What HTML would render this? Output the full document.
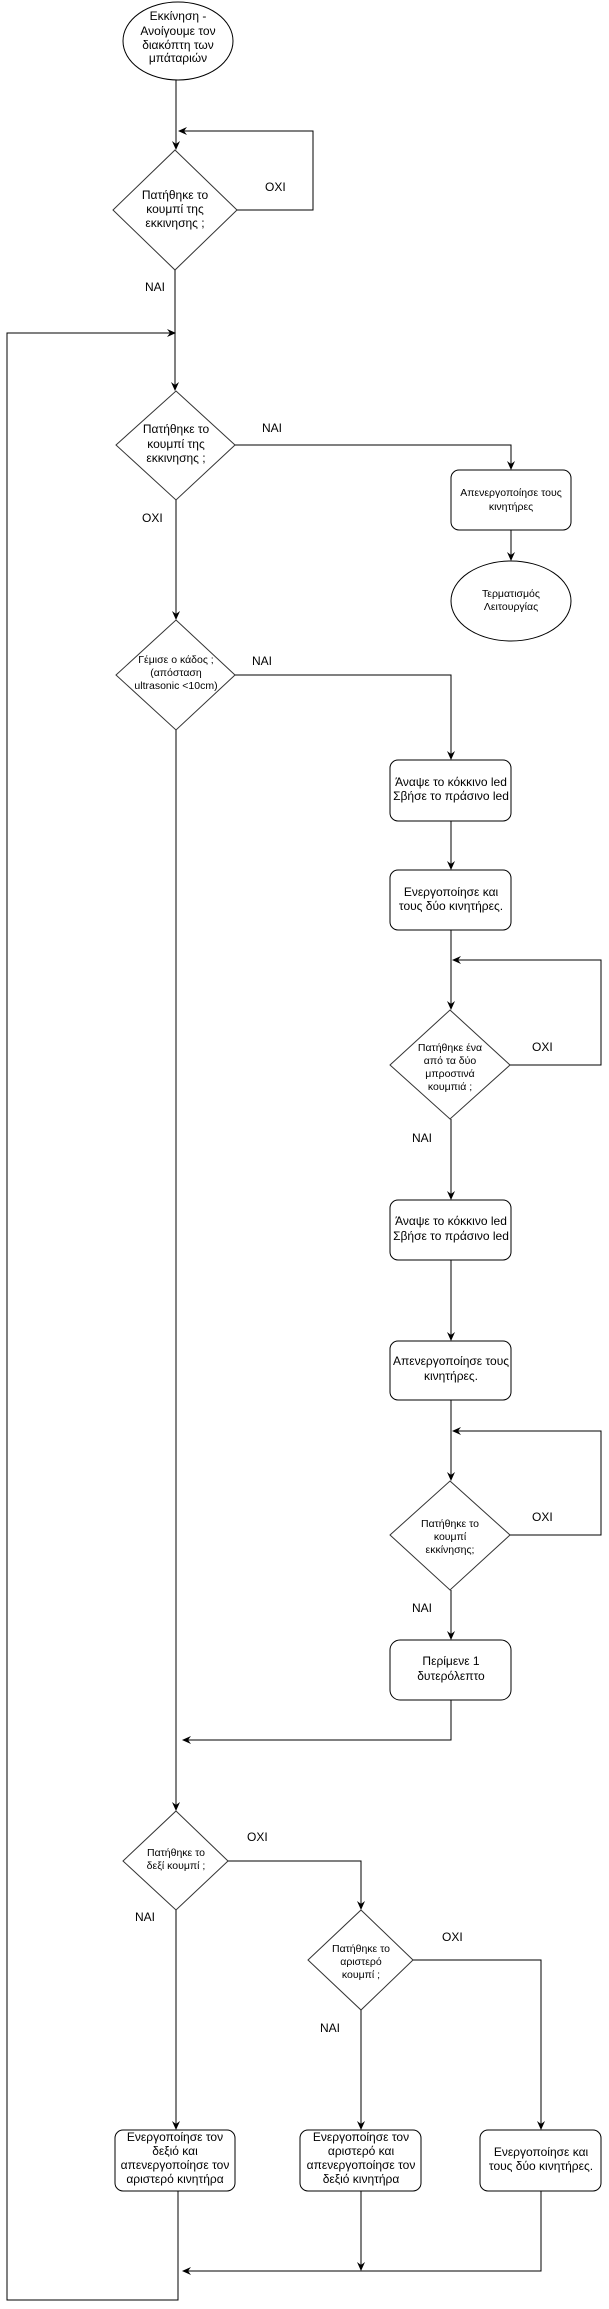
<!DOCTYPE html>
<html><head><meta charset="utf-8"><style>
html,body{margin:0;padding:0;background:#fff;}
svg{display:block;}
text{font-family:"Liberation Sans",sans-serif;fill:#000;text-anchor:middle;dominant-baseline:middle;}
.t{font-size:12px;}
.s{font-size:10.5px;}
.l{font-size:12px;text-anchor:start;}
</style></head><body>
<svg width="609" height="2309" viewBox="0 0 609 2309" xmlns="http://www.w3.org/2000/svg">
<defs><marker id="a" markerWidth="10" markerHeight="10" refX="8" refY="4" orient="auto" markerUnits="userSpaceOnUse"><path d="M0,0 L9,4 L0,8 L3,4 Z" fill="#000"/></marker></defs>
<g fill="none" stroke="#000" stroke-width="1">
<!-- start -->
<ellipse cx="178" cy="41" rx="55" ry="39" fill="#fff"/>
<path d="M176,80 V149" marker-end="url(#a)"/>
<polygon points="175,150 237,210 175,270 113,210" fill="#fff" stroke="#333"/>
<path d="M237,210 H313 V131 H179" marker-end="url(#a)"/>
<path d="M175,270 V390" marker-end="url(#a)"/>
<!-- diamond2 -->
<polygon points="176,391 235,445 176,500 116,445" fill="#fff" stroke="#333"/>
<path d="M235,445 H511 V469" marker-end="url(#a)"/>
<rect x="451" y="470" width="120" height="60" rx="8" fill="#fff"/>
<path d="M511,530 V560" marker-end="url(#a)"/>
<ellipse cx="511" cy="601" rx="60" ry="40" fill="#fff"/>
<path d="M176,500 V619" marker-end="url(#a)"/>
<!-- diamond3 -->
<polygon points="176,620 235,675 176,730 116,675" fill="#fff" stroke="#333"/>
<path d="M235,675 H451 V759" marker-end="url(#a)"/>
<rect x="390" y="760" width="121" height="61" rx="8" fill="#fff"/>
<path d="M451,821 V869" marker-end="url(#a)"/>
<rect x="390" y="870" width="121" height="60" rx="8" fill="#fff"/>
<path d="M451,930 V1009" marker-end="url(#a)"/>
<polygon points="450,1010 510,1065 450,1119 390,1065" fill="#fff" stroke="#333"/>
<path d="M510,1065 H601 V960 H453" marker-end="url(#a)"/>
<path d="M451,1119 V1199" marker-end="url(#a)"/>
<rect x="390" y="1200" width="121" height="60" rx="8" fill="#fff"/>
<path d="M451,1260 V1340" marker-end="url(#a)"/>
<rect x="390" y="1341" width="121" height="59" rx="8" fill="#fff"/>
<path d="M451,1400 V1480" marker-end="url(#a)"/>
<polygon points="450,1481 510,1535 450,1590 390,1535" fill="#fff" stroke="#333"/>
<path d="M510,1535 H601 V1431 H453" marker-end="url(#a)"/>
<path d="M451,1590 V1639" marker-end="url(#a)"/>
<rect x="390" y="1640" width="121" height="60" rx="10" fill="#fff"/>
<path d="M451,1700 V1740 H183" marker-end="url(#a)"/>
<path d="M176,730 V1810" marker-end="url(#a)"/>
<!-- diamond6 -->
<polygon points="176,1811 228,1861 176,1910 123,1861" fill="#fff" stroke="#333"/>
<path d="M228,1861 H361 V1909" marker-end="url(#a)"/>
<polygon points="361,1910 413,1960 361,2010 308,1960" fill="#fff" stroke="#333"/>
<path d="M413,1960 H541 V2129" marker-end="url(#a)"/>
<path d="M176,1910 V2129" marker-end="url(#a)"/>
<path d="M361,2010 V2129" marker-end="url(#a)"/>
<rect x="115" y="2130" width="120" height="61" rx="8" fill="#fff"/>
<rect x="300" y="2130" width="121" height="61" rx="8" fill="#fff"/>
<rect x="480" y="2130" width="121" height="61" rx="8" fill="#fff"/>
<path d="M361,2191 V2270" marker-end="url(#a)"/>
<path d="M541,2191 V2271 H183" marker-end="url(#a)"/>
<path d="M178,2191 V2300 H7 V333 H175" marker-end="url(#a)"/>
</g>
<text class="t" x="178" y="17">Εκκίνηση -</text>
<text class="t" x="178" y="32">Ανοίγουμε τον</text>
<text class="t" x="178" y="46">διακόπτη των</text>
<text class="t" x="178" y="59">μπάταριών</text>
<text class="t" x="175" y="196">Πατήθηκε το</text>
<text class="t" x="175" y="210">κουμπί της</text>
<text class="t" x="175" y="224">εκκινησης ;</text>
<text class="l" x="265" y="188">ΟΧΙ</text>
<text class="l" x="145" y="288">ΝΑΙ</text>
<text class="t" x="176" y="430">Πατήθηκε το</text>
<text class="t" x="176" y="445">κουμπί της</text>
<text class="t" x="176" y="459">εκκινησης ;</text>
<text class="l" x="262" y="429">ΝΑΙ</text>
<text class="s" x="511" y="493">Απενεργοποίησε τους</text>
<text class="s" x="511" y="507">κινητήρες</text>
<text class="s" x="511" y="594">Τερματισμός</text>
<text class="s" x="511" y="607">Λειτουργίας</text>
<text class="l" x="142" y="519">ΟΧΙ</text>
<text class="s" x="176" y="660">Γέμισε ο κάδος ;</text>
<text class="s" x="176" y="673">(απόσταση</text>
<text class="s" x="176" y="686">ultrasonic &lt;10cm)</text>
<text class="l" x="252" y="662">ΝΑΙ</text>
<text class="t" x="451" y="783">Άναψε το κόκκινο led</text>
<text class="t" x="451" y="797">Σβήσε το πράσινο led</text>
<text class="t" x="451" y="893">Ενεργοποίησε και</text>
<text class="t" x="451" y="907">τους δύο κινητήρες.</text>
<text class="s" x="450" y="1048">Πατήθηκε ένα</text>
<text class="s" x="450" y="1061">από τα δύο</text>
<text class="s" x="450" y="1074">μπροστινά</text>
<text class="s" x="450" y="1087">κουμπιά ;</text>
<text class="l" x="532" y="1048">ΟΧΙ</text>
<text class="l" x="412" y="1139">ΝΑΙ</text>
<text class="t" x="451" y="1222">Άναψε το κόκκινο led</text>
<text class="t" x="451" y="1237">Σβήσε το πράσινο led</text>
<text class="t" x="451" y="1362">Απενεργοποίησε τους</text>
<text class="t" x="451" y="1377">κινητήρες.</text>
<text class="s" x="450" y="1524">Πατήθηκε το</text>
<text class="s" x="450" y="1537">κουμπί</text>
<text class="s" x="450" y="1550">εκκίνησης;</text>
<text class="l" x="532" y="1518">ΟΧΙ</text>
<text class="l" x="412" y="1609">ΝΑΙ</text>
<text class="t" x="451" y="1662">Περίμενε 1</text>
<text class="t" x="451" y="1677">δυτερόλεπτο</text>
<text class="s" x="176" y="1853">Πατήθηκε το</text>
<text class="s" x="176" y="1866">δεξί κουμπί ;</text>
<text class="l" x="247" y="1838">ΟΧΙ</text>
<text class="l" x="135" y="1918">ΝΑΙ</text>
<text class="s" x="361" y="1949">Πατήθηκε το</text>
<text class="s" x="361" y="1962">αριστερό</text>
<text class="s" x="361" y="1975">κουμπί ;</text>
<text class="l" x="442" y="1938">ΟΧΙ</text>
<text class="l" x="320" y="2029">ΝΑΙ</text>
<text class="t" x="175" y="2138">Ενεργοποίησε τον</text>
<text class="t" x="175" y="2152">δεξιό και</text>
<text class="t" x="175" y="2166">απενεργοποίησε τον</text>
<text class="t" x="175" y="2180">αριστερό κινητήρα</text>
<text class="t" x="361" y="2138">Ενεργοποίησε τον</text>
<text class="t" x="361" y="2152">αριστερό και</text>
<text class="t" x="361" y="2166">απενεργοποίησε τον</text>
<text class="t" x="361" y="2180">δεξιό κινητήρα</text>
<text class="t" x="541" y="2153">Ενεργοποίησε και</text>
<text class="t" x="541" y="2167">τους δύο κινητήρες.</text>
</svg>
</body></html>
